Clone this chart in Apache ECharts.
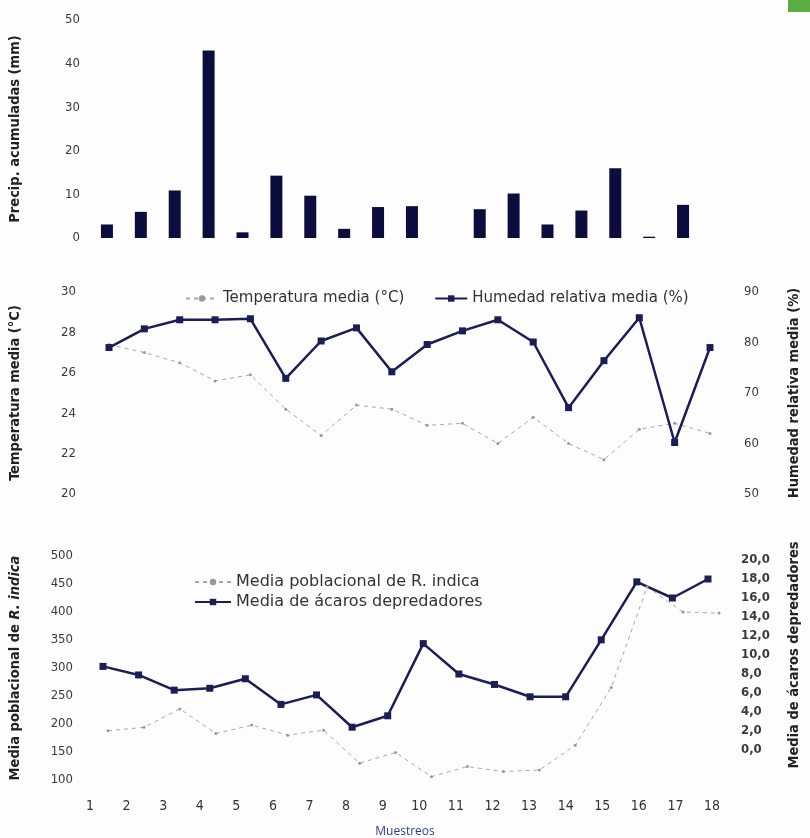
<!DOCTYPE html>
<html>
<head>
<meta charset="utf-8">
<script src="https://cdn.jsdelivr.net/npm/echarts@6/dist/echarts.min.js"></script>
<style>
  html, body { margin: 0; padding: 0; background: #fdfdfd; }
  #chart { width: 810px; height: 838px; }
</style>
</head>
<body>
<div id="chart"></div>
<script>
// Sampling rounds (Muestreos)
const muestreos = ['1','2','3','4','5','6','7','8','9','10','11','12','13','14','15','16','17','18'];

// Accumulated rainfall per sampling (mm)
const precipitacion = [3.1, 6.0, 10.9, 43.0, 1.3, 14.3, 9.7, 2.1, 7.1, 7.3, 0, 6.6, 10.2, 3.1, 6.3, 16.0, 0.3, 7.6];

// Mean temperature (°C) and mean relative humidity (%)
const temperatura = [27.4, 27.0, 26.5, 25.6, 25.9, 24.2, 22.9, 24.4, 24.2, 23.4, 23.5, 22.5, 23.8, 22.5, 21.7, 23.2, 23.5, 23.0];
const humedad = [79.0, 82.7, 84.5, 84.5, 84.7, 72.9, 80.3, 82.9, 74.2, 79.6, 82.3, 84.5, 80.1, 67.1, 76.4, 84.9, 60.2, 79.0];

// Mean R. indica population and mean predatory mites
const indica = [188, 194, 227, 183, 198, 180, 189, 130, 149, 106, 124, 115, 118, 162, 265, 445, 400, 398];
const depredadores = [8.8, 7.9, 6.3, 6.5, 7.5, 4.8, 5.8, 2.4, 3.6, 11.2, 8.0, 6.9, 5.6, 5.6, 11.6, 17.7, 16.0, 18.0];

// Axis tick ranges
const precipAxis = { min: 0, max: 50, interval: 10 };
const tempAxis = { min: 20, max: 30, interval: 2 };
const humAxis = { min: 50, max: 90, interval: 10 };
const indicaAxis = { min: 100, max: 500, interval: 50 };
const depAxis = { min: 0, max: 20, interval: 2 };

const FONT = 'DejaVu Sans Condensed, DejaVu Sans, sans-serif';
const NAVY = '#1b1d55';
const GREY = '#a9a9a9';

const tickLabel = { color: '#3a3a3a', fontSize: 13, fontFamily: FONT };
const axisName = { color: '#222', fontSize: 14.5, fontWeight: 'bold', fontFamily: FONT };

function hiddenX(gridIndex, gap) {
  return {
    type: 'category', gridIndex: gridIndex, data: muestreos, boundaryGap: gap,
    axisLine: { show: false }, axisTick: { show: false }, axisLabel: { show: false },
    splitLine: { show: false }
  };
}

function valueY(gridIndex, range, position, extra) {
  return Object.assign({
    type: 'value', gridIndex: gridIndex, position: position,
    min: range.min, max: range.max, interval: range.interval,
    axisLine: { show: false }, axisTick: { show: false }, splitLine: { show: false },
    nameLocation: 'middle', nameRotate: 90, nameTextStyle: axisName
  }, extra);
}

const chart = echarts.init(document.getElementById('chart'), null, { renderer: 'canvas' });

chart.setOption({
  backgroundColor: '#fdfdfd',
  animation: false,
  grid: [
    { left: 82, top: 20, width: 618, height: 218 },
    { left: 103, top: 292, width: 618, height: 202 },
    { left: 103, top: 556, width: 616, height: 224 },
    { left: 103, top: 560, width: 616, height: 190 },
    { left: 90, top: 790, width: 622, height: 1 }
  ],
  xAxis: [
    hiddenX(0, true),
    hiddenX(1, false),
    hiddenX(2, false),
    hiddenX(3, false),
    {
      type: 'category', gridIndex: 4, data: muestreos, boundaryGap: false,
      axisLine: { show: false }, axisTick: { show: false },
      axisLabel: { color: '#333', fontSize: 14, fontFamily: FONT, margin: 8 }
    }
  ],
  yAxis: [
    valueY(0, precipAxis, 'left', {
      name: 'Precip. acumuladas (mm)', nameGap: 67,
      axisLabel: Object.assign({ margin: 10 }, tickLabel)
    }),
    valueY(1, tempAxis, 'left', {
      name: 'Temperatura media (°C)', nameGap: 86,
      axisLabel: Object.assign({ margin: 33 }, tickLabel)
    }),
    valueY(1, humAxis, 'right', {
      name: 'Humedad relativa media (%)', nameGap: 77,
      axisLabel: Object.assign({ margin: 34 }, tickLabel)
    }),
    valueY(2, indicaAxis, 'left', {
      name: 'Media poblacional de {i|R. indica}', nameGap: 85,
      nameTextStyle: Object.assign({ rich: { i: { fontStyle: 'italic', fontWeight: 'bold', fontSize: 14.5, color: '#222', fontFamily: FONT } } }, axisName),
      axisLabel: Object.assign({ margin: 35 }, tickLabel)
    }),
    valueY(3, depAxis, 'right', {
      name: 'Media de ácaros depredadores', nameGap: 79,
      axisLabel: Object.assign({ margin: 33, fontWeight: 'bold',
        formatter: function (v) { return v.toFixed(1).replace('.', ','); } }, tickLabel)
    }),
    { type: 'value', gridIndex: 4, show: false }
  ],
  legend: [
    {
      data: ['Temperatura media (°C)', 'Humedad relativa media (%)'],
      left: 180, top: 286, itemWidth: 32, itemHeight: 8, itemGap: 30,
      textStyle: { color: '#333', fontSize: 15, fontFamily: 'DejaVu Sans, sans-serif' }
    },
    {
      data: ['Media poblacional de R. indica', 'Media de ácaros depredadores'],
      orient: 'vertical', left: 189, top: 569, itemWidth: 36, itemHeight: 8, itemGap: 4,
      textStyle: { color: '#333', fontSize: 16, fontFamily: 'DejaVu Sans, sans-serif' }
    }
  ],
  series: [
    {
      name: 'Precipitación', type: 'bar', xAxisIndex: 0, yAxisIndex: 0,
      data: precipitacion, barWidth: 12,
      itemStyle: { color: '#0c0c3e' }
    },
    {
      name: 'Temperatura media (°C)', type: 'line', xAxisIndex: 1, yAxisIndex: 1,
      data: temperatura, symbol: 'circle', symbolSize: 3,
      lineStyle: { color: GREY, width: 1, type: [4, 4] },
      itemStyle: { color: '#999' }
    },
    {
      name: 'Humedad relativa media (%)', type: 'line', xAxisIndex: 1, yAxisIndex: 2,
      data: humedad, symbol: 'rect', symbolSize: 7,
      lineStyle: { color: NAVY, width: 2.5 },
      itemStyle: { color: NAVY }
    },
    {
      name: 'Media poblacional de R. indica', type: 'line', xAxisIndex: 2, yAxisIndex: 3,
      data: indica, symbol: 'circle', symbolSize: 3,
      lineStyle: { color: GREY, width: 1, type: [4, 4] },
      itemStyle: { color: '#999' }
    },
    {
      name: 'Media de ácaros depredadores', type: 'line', xAxisIndex: 3, yAxisIndex: 4,
      data: depredadores, symbol: 'rect', symbolSize: 7,
      lineStyle: { color: NAVY, width: 2.5 },
      itemStyle: { color: NAVY }
    }
  ],
  graphic: [
    {
      type: 'text', left: 'center', top: 826,
      style: { text: 'Muestreos', fill: '#2d3d8e', font: '12px "Open Sans", sans-serif' }
    },
    {
      type: 'rect', left: 788, top: 0, shape: { width: 22, height: 12 },
      style: { fill: '#5cae44' }
    }
  ]
});
</script>
</body>
</html>
